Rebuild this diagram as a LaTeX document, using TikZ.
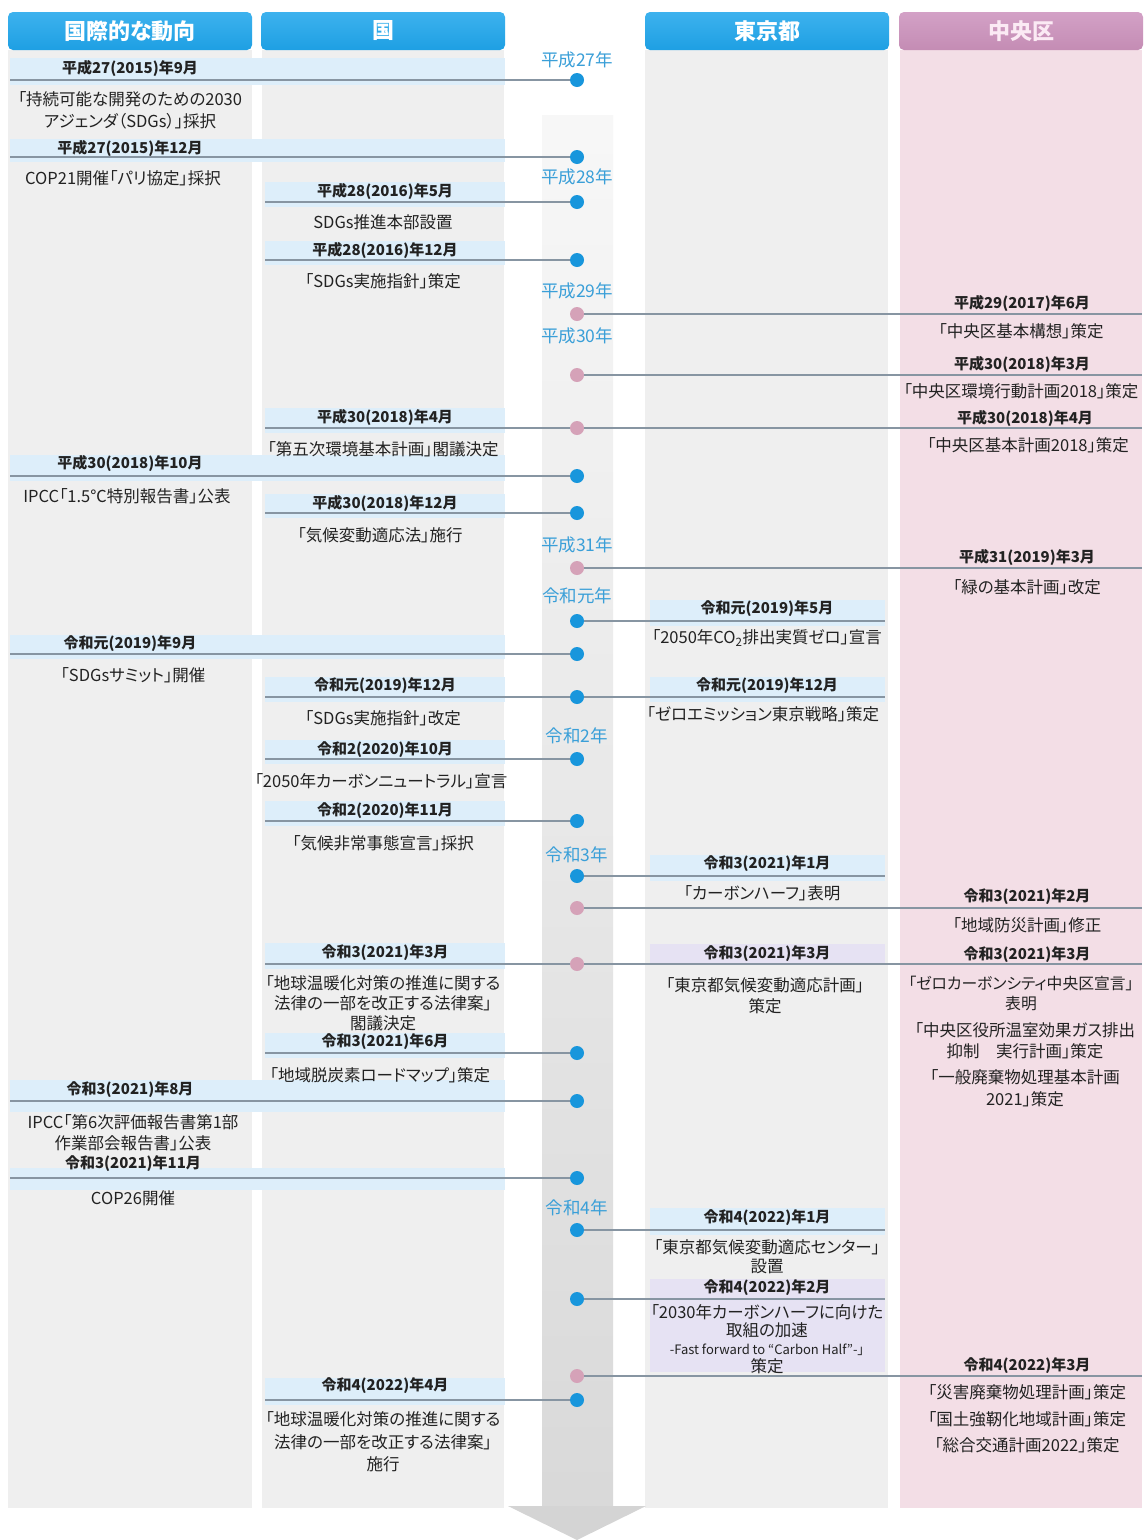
\documentclass[tikz,border=0pt]{standalone}
\usepackage{fontspec}
\setmainfont{Noto Sans CJK JP}[RawFeature={+palt}]
\definecolor{hblue}{HTML}{1E9FE3}
\definecolor{hbluetop}{HTML}{3DB2EE}
\definecolor{hpink}{HTML}{C48CB4}
\definecolor{hpinktop}{HTML}{D3A1C6}
\definecolor{hpinktxt}{HTML}{FBEAF4}
\definecolor{panelgray}{HTML}{EFEFEF}
\definecolor{panelpink}{HTML}{F3DEE6}
\definecolor{bandblue}{HTML}{DDEEFA}
\definecolor{bandlav}{HTML}{E6E2F3}
\definecolor{dotblue}{HTML}{1896DC}
\definecolor{dotpink}{HTML}{D5A2B8}
\definecolor{linegray}{HTML}{8795A2}
\definecolor{yearblue}{HTML}{3A9FD8}
\definecolor{txt}{HTML}{222222}
\begin{document}
\begin{tikzpicture}[x=1pt,y=-1pt,
  hdr/.style={rounded corners=5pt, minimum width=244pt, minimum height=38pt, inner sep=0pt, font=\fontsize{22}{26}\selectfont\bfseries},
  dateL/.style={font=\fontsize{15}{17}\selectfont\bfseries, text=txt, inner sep=0pt},
  bodyT/.style={font=\fontsize{16.5}{22}\selectfont, text=txt, align=center, inner sep=0pt},
  yearT/.style={font=\fontsize{17.5}{20}\selectfont, text=yearblue, inner sep=0pt},
  bdot/.style={circle, fill=dotblue, minimum size=14pt, inner sep=0pt},
  pdot/.style={circle, fill=dotpink, minimum size=14pt, inner sep=0pt},
  conn/.style={draw=linegray, line width=1.2pt},
  band/.style={fill=bandblue},
  lavband/.style={fill=bandlav}]
\useasboundingbox (0,0) rectangle (1144,1540);
\fill[white] (0,0) rectangle (1144,1540);
% panels
\fill[panelgray] (8,50) rectangle (252,1508);
\fill[panelgray] (262,50) rectangle (504,1508);
\fill[panelgray] (645,50) rectangle (888,1508);
\fill[panelpink] (900,50) rectangle (1142,1508);
% center arrow band
\shade[top color=white!97!black, bottom color=white!85!black] (542,115) rectangle (613,1506);
\fill[white!83!black] (508,1506) -- (646,1506) -- (577,1540) -- cycle;
% headers
\node[hdr, top color=hbluetop, bottom color=hblue, text=white] (h1) at (130,31) {国際的な動向};
\node[hdr, top color=hbluetop, bottom color=hblue, text=white] (h2) at (383,31) {国};
\node[hdr, top color=hbluetop, bottom color=hblue, text=white] (h3) at (767,31) {東京都};
\node[hdr, top color=hpinktop, bottom color=hpink, text=hpinktxt] (h4) at (1021,31) {中央区};
% date bands
\fill[band] (10,58) rectangle (505,85);
\fill[band] (10,139) rectangle (505,162);
\fill[band] (265,182) rectangle (505,207);
\fill[band] (265,241) rectangle (505,265);
\fill[band] (265,408) rectangle (505,433);
\fill[band] (10,455) rectangle (505,481);
\fill[band] (265,494) rectangle (505,518);
\fill[band] (650,600) rectangle (885,626);
\fill[band] (10,635) rectangle (505,659);
\fill[band] (265,677) rectangle (505,702);
\fill[band] (650,677) rectangle (885,702);
\fill[band] (265,740) rectangle (505,764);
\fill[band] (265,801) rectangle (505,826);
\fill[band] (650,855) rectangle (885,881);
\fill[band] (265,943) rectangle (505,969);
\fill[lavband] (650,944) rectangle (885,964);
\fill[band] (265,1033) rectangle (505,1058);
\fill[band] (10,1080) rectangle (505,1112);
\fill[band] (10,1168) rectangle (505,1190);
\fill[band] (650,1208) rectangle (885,1235);
\fill[lavband] (650,1279) rectangle (885,1372);
\fill[band] (265,1378) rectangle (505,1405);
% year labels
\node[yearT] (y27) at (577,60) {平成27年};
\node[yearT] (y28) at (577,177) {平成28年};
\node[yearT] (y29) at (577,291) {平成29年};
\node[yearT] (y30) at (577,336) {平成30年};
\node[yearT] (y31) at (577,545) {平成31年};
\node[yearT] (r1) at (577,596) {令和元年};
\node[yearT] (r2) at (577,736) {令和2年};
\node[yearT] (r3) at (577,855) {令和3年};
\node[yearT] (r4) at (577,1208) {令和4年};
% dots
\node[bdot] (d1) at (577,80) {};
\node[bdot] (d2) at (577,157) {};
\node[bdot] (d3) at (577,202) {};
\node[bdot] (d4) at (577,260) {};
\node[pdot] (d5) at (577,314) {};
\node[pdot] (d6) at (577,375) {};
\node[pdot] (d7) at (577,428) {};
\node[bdot] (d8) at (577,476) {};
\node[bdot] (d9) at (577,513) {};
\node[pdot] (d10) at (577,568) {};
\node[bdot] (d11) at (577,621) {};
\node[bdot] (d12) at (577,654) {};
\node[bdot] (d13) at (577,697) {};
\node[bdot] (d14) at (577,759) {};
\node[bdot] (d15) at (577,821) {};
\node[bdot] (d16) at (577,876) {};
\node[pdot] (d17) at (577,908) {};
\node[pdot] (d18) at (577,964) {};
\node[bdot] (d19) at (577,1053) {};
\node[bdot] (d20) at (577,1101) {};
\node[bdot] (d21) at (577,1178) {};
\node[bdot] (d22) at (577,1230) {};
\node[bdot] (d23) at (577,1299) {};
\node[pdot] (d24) at (577,1376) {};
\node[bdot] (d25) at (577,1400) {};
% line ends
\coordinate (s1) at (10,80);
\coordinate (s2) at (10,157);
\coordinate (s3) at (265,202);
\coordinate (s4) at (265,260);
\coordinate (e5) at (1142,314);
\coordinate (e6) at (1142,375);
\coordinate (s7) at (265,428);
\coordinate (e7) at (1142,428);
\coordinate (s8) at (10,476);
\coordinate (s9) at (265,513);
\coordinate (e10) at (1142,568);
\coordinate (e11) at (885,621);
\coordinate (s12) at (10,654);
\coordinate (s13) at (265,697);
\coordinate (e13) at (885,697);
\coordinate (s14) at (265,759);
\coordinate (s15) at (265,821);
\coordinate (e16) at (885,876);
\coordinate (e17) at (1142,908);
\coordinate (s18) at (265,964);
\coordinate (e18) at (1142,964);
\coordinate (s19) at (265,1053);
\coordinate (s20) at (10,1101);
\coordinate (s21) at (10,1178);
\coordinate (e22) at (885,1230);
\coordinate (e23) at (885,1299);
\coordinate (e24) at (1142,1376);
\coordinate (s25) at (265,1400);
% connectors
\draw[conn] (s1) -- (d1);
\draw[conn] (s2) -- (d2);
\draw[conn] (s3) -- (d3);
\draw[conn] (s4) -- (d4);
\draw[conn] (d5) -- (e5);
\draw[conn] (d6) -- (e6);
\draw[conn] (s7) -- (d7) -- (e7);
\draw[conn] (s8) -- (d8);
\draw[conn] (s9) -- (d9);
\draw[conn] (d10) -- (e10);
\draw[conn] (d11) -- (e11);
\draw[conn] (s12) -- (d12);
\draw[conn] (s13) -- (d13) -- (e13);
\draw[conn] (s14) -- (d14);
\draw[conn] (s15) -- (d15);
\draw[conn] (d16) -- (e16);
\draw[conn] (d17) -- (e17);
\draw[conn] (s18) -- (d18) -- (e18);
\draw[conn] (s19) -- (d19);
\draw[conn] (s20) -- (d20);
\draw[conn] (s21) -- (d21);
\draw[conn] (d22) -- (e22);
\draw[conn] (d23) -- (e23);
\draw[conn] (d24) -- (e24);
\draw[conn] (s25) -- (d25);
% dates
\node[dateL] (t1) at (130,68) {平成27(2015)年9月};
\node[dateL] (t2) at (130,148) {平成27(2015)年12月};
\node[dateL] (t3) at (385,191) {平成28(2016)年5月};
\node[dateL] (t4) at (385,250) {平成28(2016)年12月};
\node[dateL] (t5) at (1022,303) {平成29(2017)年6月};
\node[dateL] (t6) at (1022,364) {平成30(2018)年3月};
\node[dateL] (t7l) at (385,417) {平成30(2018)年4月};
\node[dateL] (t7r) at (1025,418) {平成30(2018)年4月};
\node[dateL] (t8) at (130,463) {平成30(2018)年10月};
\node[dateL] (t9) at (385,503) {平成30(2018)年12月};
\node[dateL] (t10) at (1027,557) {平成31(2019)年3月};
\node[dateL] (t11) at (767,609) {令和元(2019)年5月};
\node[dateL] (t12) at (130,644) {令和元(2019)年9月};
\node[dateL] (t13l) at (385,686) {令和元(2019)年12月};
\node[dateL] (t13r) at (767,686) {令和元(2019)年12月};
\node[dateL] (t14) at (385,750) {令和2(2020)年10月};
\node[dateL] (t15) at (385,811) {令和2(2020)年11月};
\node[dateL] (t16) at (767,864) {令和3(2021)年1月};
\node[dateL] (t17) at (1027,897) {令和3(2021)年2月};
\node[dateL] (t18l) at (385,953) {令和3(2021)年3月};
\node[dateL] (t18m) at (767,954) {令和3(2021)年3月};
\node[dateL] (t18r) at (1027,955) {令和3(2021)年3月};
\node[dateL] (t19) at (385,1042) {令和3(2021)年6月};
\node[dateL] (t20) at (130,1090) {令和3(2021)年8月};
\node[dateL] (t21) at (133,1164) {令和3(2021)年11月};
\node[dateL] (t22) at (767,1218) {令和4(2022)年1月};
\node[dateL] (t23) at (767,1288) {令和4(2022)年2月};
\node[dateL] (t24) at (1027,1366) {令和4(2022)年3月};
\node[dateL] (t25) at (385,1386) {令和4(2022)年4月};
% bodies
\node[bodyT] (b1) at (130,110) {「持続可能な開発のための2030\\アジェンダ（SDGs）」採択};
\node[bodyT] (b2) at (123,178) {COP21開催「パリ協定」採択};
\node[bodyT] (b3) at (383,222) {SDGs推進本部設置};
\node[bodyT] (b4) at (383,281) {「SDGs実施指針」策定};
\node[bodyT] (b5) at (1021,331) {「中央区基本構想」策定};
\node[bodyT] (b6) at (1021,391) {「中央区環境行動計画2018」策定};
\node[bodyT] (b7l) at (383,449) {「第五次環境基本計画」閣議決定};
\node[bodyT] (b7r) at (1028,445) {「中央区基本計画2018」策定};
\node[bodyT] (b8) at (127,496) {IPCC「1.5℃特別報告書」公表};
\node[bodyT] (b9) at (380,535) {「気候変動適応法」施行};
\node[bodyT] (b10) at (1027,587) {「緑の基本計画」改定};
\node[bodyT] (b11) at (767,638) {「2050年CO\textsubscript{2}排出実質ゼロ」宣言};
\node[bodyT] (b12) at (133,675) {「SDGsサミット」開催};
\node[bodyT] (b13l) at (383,718) {「SDGs実施指針」改定};
\node[bodyT] (b13r) at (763,714) {「ゼロエミッション東京戦略」策定};
\node[bodyT] (b14) at (381,781) {「2050年カーボンニュートラル」宣言};
\node[bodyT] (b15) at (383,843) {「気候非常事態宣言」採択};
\node[bodyT] (b16) at (762,893) {「カーボンハーフ」表明};
\node[bodyT] (b17) at (1027,925) {「地域防災計画」修正};
\node[bodyT, font=\fontsize{16.5}{20}\selectfont] (b18l) at (383,1003) {「地球温暖化対策の推進に関する\\法律の一部を改正する法律案」\\閣議決定};
\node[bodyT, font=\fontsize{16.5}{21}\selectfont] (b18m) at (765,996) {「東京都気候変動適応計画」\\策定};
\node[bodyT, font=\fontsize{15.8}{20}\selectfont] (b18r1) at (1021,993) {「ゼロカーボンシティ中央区宣言」\\表明};
\node[bodyT, font=\fontsize{16.5}{21}\selectfont] (b18r2) at (1025,1041) {「中央区役所温室効果ガス排出\\抑制　実行計画」策定};
\node[bodyT, font=\fontsize{16.5}{22}\selectfont] (b18r3) at (1025,1088) {「一般廃棄物処理基本計画\\2021」策定};
\node[bodyT] (b19) at (380,1075) {「地域脱炭素ロードマップ」策定};
\node[bodyT, font=\fontsize{16.5}{21}\selectfont] (b20) at (133,1133) {IPCC「第6次評価報告書第1部\\作業部会報告書」公表};
\node[bodyT] (b21) at (133,1198) {COP26開催};
\node[bodyT, font=\fontsize{16.5}{19}\selectfont] (b22) at (767,1257) {「東京都気候変動適応センター」\\設置};
\node[bodyT, font=\fontsize{16.5}{18}\selectfont] (b23) at (767,1339) {「2030年カーボンハーフに向けた\\取組の加速\\{\fontsize{13}{18}\selectfont -Fast forward to “Carbon Half”-」}\\策定};
\node[bodyT, font=\fontsize{16.5}{26.5}\selectfont] (b24) at (1027,1419) {「災害廃棄物処理計画」策定\\「国土強靭化地域計画」策定\\「総合交通計画2022」策定};
\node[bodyT, font=\fontsize{16.5}{22.5}\selectfont] (b25) at (383,1442) {「地球温暖化対策の推進に関する\\法律の一部を改正する法律案」\\施行};
\end{tikzpicture}
\end{document}
